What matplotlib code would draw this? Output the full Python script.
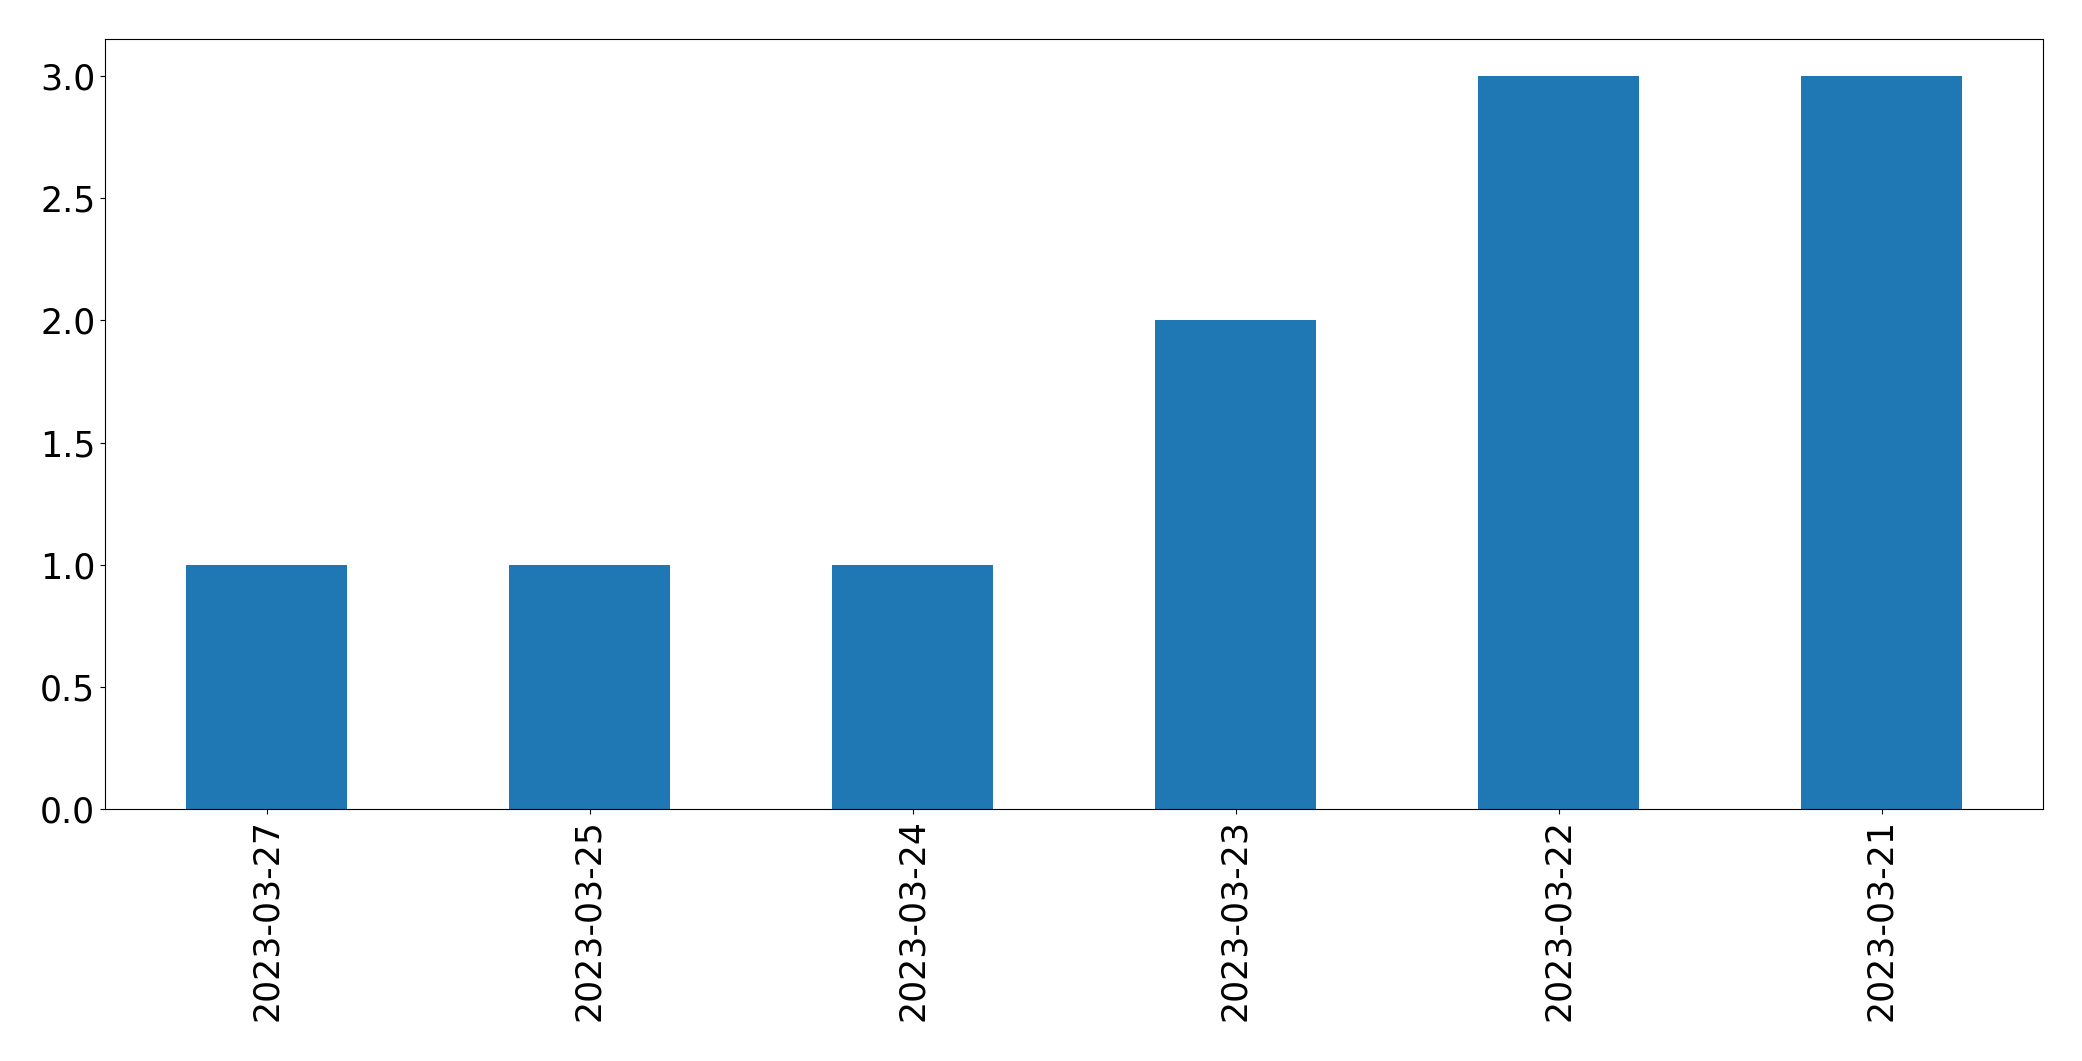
import matplotlib
matplotlib.use("Agg")
import matplotlib.pyplot as plt

dates = ["2023-03-27", "2023-03-25", "2023-03-24", "2023-03-23", "2023-03-22", "2023-03-21"]
counts = [1, 1, 1, 2, 3, 3]

fig = plt.figure(figsize=(20.82, 10.61), dpi=100)
ax = fig.add_axes([105/2082, 1 - 809.3/1061, (2043 - 105)/2082, (809.3 - 39.3)/1061])
x = list(range(len(dates)))
ax.bar(x, counts, width=0.5, color="#1f77b4")
ax.set_xticks(x)
ax.set_xticklabels(dates, rotation=90)
ax.set_xlim(-0.5, len(dates) - 0.5)
ax.tick_params(labelsize=25)
fig.savefig("out.png", dpi=100)
